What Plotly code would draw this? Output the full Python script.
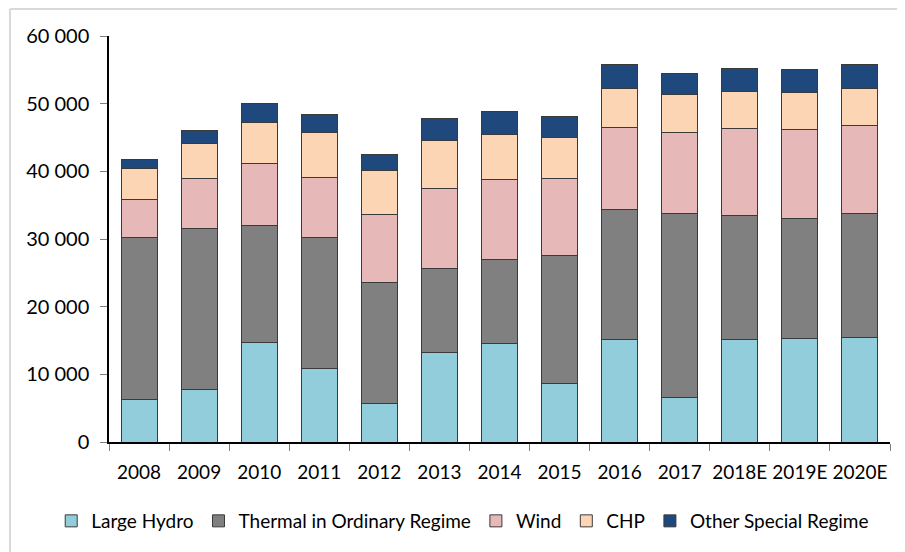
import plotly.graph_objects as go

years = ["2008", "2009", "2010", "2011", "2012", "2013", "2014", "2015",
         "2016", "2017", "2018E", "2019E", "2020E"]

large_hydro = [6350, 7800, 14750, 10800, 5750, 13250, 14600, 8700, 15200, 6650, 15100, 15250, 15500]
thermal = [23800, 23800, 17300, 19350, 17750, 12450, 12400, 18900, 19100, 27050, 18400, 17850, 18200]
wind = [5750, 7400, 9050, 9000, 10050, 11700, 11850, 11400, 12200, 12000, 12800, 13100, 13100]
chp = [4450, 5100, 6100, 6600, 6600, 7150, 6550, 6050, 5700, 5650, 5550, 5500, 5500]
other = [1400, 1900, 2800, 2650, 2400, 3200, 3500, 3100, 3600, 3100, 3350, 3400, 3500]

series = [
    ("Large Hydro", large_hydro, "#92CDDC"),
    ("Thermal in Ordinary Regime", thermal, "#808080"),
    ("Wind", wind, "#E6B9B8"),
    ("CHP", chp, "#FCD5B5"),
    ("Other Special Regime", other, "#1F497D"),
]

FONT = "Lato"

fig = go.Figure()
for name, vals, col in series:
    fig.add_trace(go.Bar(
        x=years, y=vals, name=name,
        marker=dict(color=col, line=dict(color="#3a3a3a", width=1)),
    ))

# page has an 8px body margin, so the figure is sized to 897x544
fig.update_layout(
    barmode="stack",
    bargap=0.4,
    width=897, height=544,
    margin=dict(l=101, r=15, t=28, b=110, autoexpand=False),
    paper_bgcolor="white",
    plot_bgcolor="white",
    font=dict(family=FONT, size=19, color="black"),
    xaxis=dict(
        showline=True, linecolor="black", linewidth=1.5,
        ticks="outside", tickson="boundaries", ticklen=7, tickcolor="#808080",
        showgrid=False, tickfont=dict(size=19), tickangle=0, automargin=False,
        ticklabelstandoff=12,
    ),
    yaxis=dict(
        range=[0, 60000], dtick=10000, tickformat=",d",
        showline=True, linecolor="black", linewidth=1.5,
        ticks="outside", ticklen=7, tickcolor="#808080",
        showgrid=False, zeroline=False, tickfont=dict(size=20), automargin=False,
        ticklabelstandoff=7,
    ),
    separators=". ",
    legend=dict(
        orientation="h", x=-0.074, xanchor="left", y=-0.1946, yanchor="middle",
        font=dict(size=19), traceorder="normal", itemwidth=30,
    ),
    shapes=[
        dict(type="line", xref="paper", yref="paper", x0=-0.1268, x1=-0.1268,
             y0=-0.3, y1=1.0665, line=dict(color="#d9d9d9", width=2)),
        dict(type="line", xref="paper", yref="paper", x0=-0.1268, x1=1.05,
             y0=1.0665, y1=1.0665, line=dict(color="#d9d9d9", width=2)),
    ],
)

fig.write_html("out.html")
